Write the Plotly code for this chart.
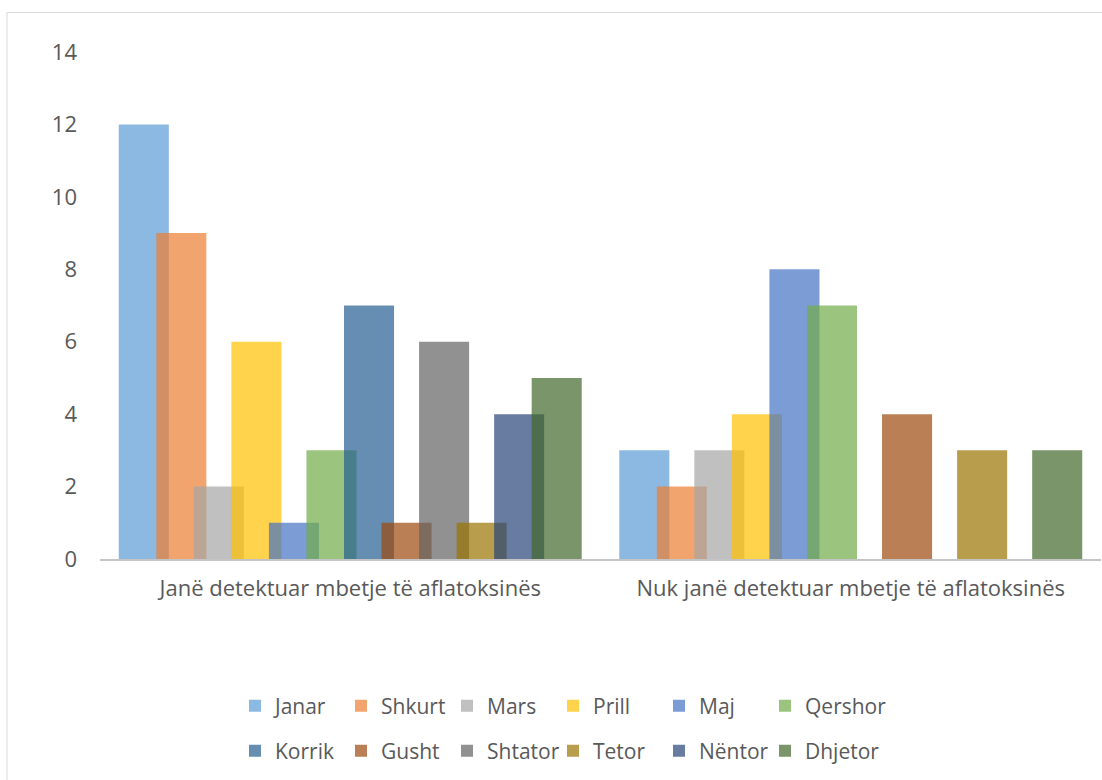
import plotly.graph_objects as go

categories = ["Janë detektuar mbetje të aflatoksinës", "Nuk janë detektuar mbetje të aflatoksinës"]
months = ["Janar", "Shkurt", "Mars", "Prill", "Maj", "Qershor",
          "Korrik", "Gusht", "Shtator", "Tetor", "Nëntor", "Dhjetor"]
detected = [12, 9, 2, 6, 1, 3, 7, 1, 6, 1, 4, 5]
not_detected = [3, 2, 3, 4, 8, 7, 0, 4, 0, 3, 0, 3]
y_ticks = [0, 2, 4, 6, 8, 10, 12, 14]

colors = ["#5B9BD5", "#ED7D31", "#A5A5A5", "#FFC000", "#4472C4", "#70AD47",
          "#255E91", "#9E480E", "#636363", "#997300", "#264478", "#43682B"]


def rgba(hex_color, a=0.7):
    h = hex_color.lstrip("#")
    r, g, b = int(h[0:2], 16), int(h[2:4], 16), int(h[4:6], 16)
    return f"rgba({r},{g},{b},{a})"


FONT = "Open Sans"
TXT = "#595959"

bar_w = 0.1
step = 0.075
start = -(step * (len(months) - 1) + bar_w) / 2

fig = go.Figure()
for i, m in enumerate(months):
    fig.add_trace(go.Bar(
        name=m,
        x=categories,
        y=[detected[i], not_detected[i]],
        width=bar_w,
        offset=start + i * step,
        marker=dict(color=rgba(colors[i]), line=dict(width=0)),
        legend="legend" if i < 6 else "legend2",
        legendwidth=110 if i in (5, 11) else None,
    ))

W, H = 1102, 780
ml, mr, mt, mb = 100, 1, 52, 221
pw, ph = W - ml - mr, H - mt - mb


def px_x(px):
    return (px - ml) / pw


def px_y(py):
    return (H - mb - py) / ph


legend_common = dict(
    orientation="h", xanchor="left", yanchor="middle",
    entrywidth=61, entrywidthmode="pixels",
    font=dict(family=FONT, size=21, color=TXT),
    bgcolor="rgba(0,0,0,0)", traceorder="normal",
)

fig.update_layout(
    width=W, height=H,
    margin=dict(l=ml, r=mr, t=mt, b=mb, pad=0),
    barmode="overlay",
    paper_bgcolor="white", plot_bgcolor="white",
    font=dict(family=FONT, color=TXT),
    showlegend=True,
    legend=dict(x=px_x(235), y=px_y(706), **legend_common),
    legend2=dict(x=px_x(235), y=px_y(751), **legend_common),
    xaxis=dict(
        type="category", range=[-0.5, 1.5],
        showline=True, linecolor="#C4C4C4", linewidth=2,
        showgrid=False, ticks="", zeroline=False,
        tickfont=dict(family=FONT, size=22, color=TXT),
        ticklabelstandoff=9,
    ),
    yaxis=dict(
        range=[0, 14], tickvals=y_ticks,
        showgrid=False, zeroline=False, showline=False, ticks="",
        tickfont=dict(family=FONT, size=22, color=TXT),
        ticklabelstandoff=22,
    ),
    shapes=[dict(
        type="rect", xref="paper", yref="paper",
        x0=px_x(7), x1=px_x(1130), y0=px_y(800), y1=px_y(12.5),
        line=dict(color="#D9D9D9", width=1), fillcolor="rgba(0,0,0,0)",
        layer="below",
    )],
)

fig.write_html("out.html")
